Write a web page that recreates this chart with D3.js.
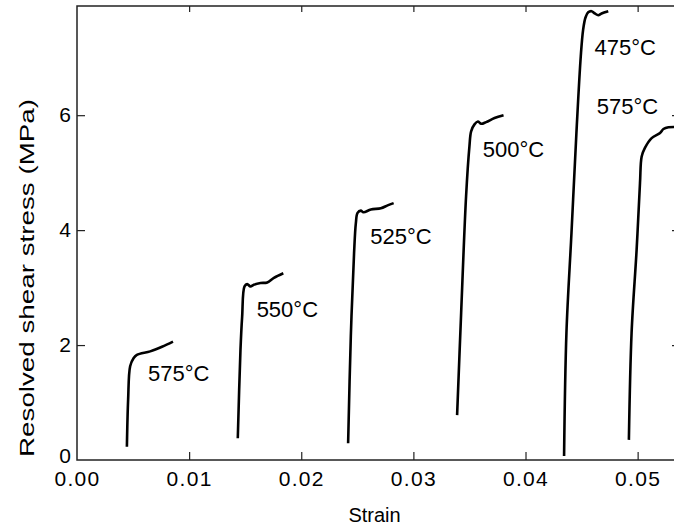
<!DOCTYPE html>
<html>
<head>
<meta charset="utf-8">
<script src="https://cdn.jsdelivr.net/npm/d3@7"></script>
<style>
  html, body { margin: 0; padding: 0; background: #fff; }
  svg { display: block; font-family: "Liberation Sans", Arial, Helvetica, sans-serif; }
</style>
</head>
<body>
<svg id="chart" width="674" height="531"></svg>
<script>
// Stress–strain traces, one per test temperature (strain, resolved shear stress in MPa)
const curve575a = [[0.00445,0.23],[0.00456,1.05],[0.00474,1.63],[0.00504,1.77],[0.00534,1.83],[0.00653,1.89],[0.00758,1.97],[0.00856,2.06]];
const curve550 = [[0.01434,0.38],[0.01458,1.92],[0.01473,2.50],[0.01494,3.02],[0.01518,3.06],[0.01547,3.02],[0.01577,3.05],[0.01637,3.08],[0.01697,3.09],[0.01756,3.17],[0.01840,3.25]];
const curve525 = [[0.02418,0.29],[0.02442,2.15],[0.02471,3.60],[0.02487,4.12],[0.02502,4.30],[0.02531,4.34],[0.02555,4.31],[0.02621,4.36],[0.02710,4.38],[0.02770,4.43],[0.02824,4.47]];
const curve500 = [[0.03390,0.78],[0.03426,2.56],[0.03470,4.59],[0.03500,5.46],[0.03515,5.72],[0.03545,5.84],[0.03575,5.89],[0.03605,5.85],[0.03649,5.88],[0.03724,5.95],[0.03804,6.00]];
const curve475 = [[0.04344,0.07],[0.04365,2.21],[0.04410,3.95],[0.04454,5.69],[0.04493,7.03],[0.04514,7.49],[0.04535,7.70],[0.04559,7.79],[0.04589,7.81],[0.04618,7.77],[0.04649,7.74],[0.04678,7.77],[0.04738,7.81]];
const curve575b = [[0.04922,0.35],[0.04946,2.21],[0.04991,3.66],[0.05021,4.82],[0.05036,5.28],[0.05065,5.43],[0.05125,5.60],[0.05200,5.69],[0.05230,5.76],[0.05275,5.79],[0.05400,5.79]];

const curves = [curve575a, curve550, curve525, curve500, curve475, curve575b];
const curveLabels = ["575°C", "550°C", "525°C", "500°C", "475°C", "575°C"];
// label anchor in data units (left edge, baseline)
const labelX = [0.00633, 0.01602, 0.02615, 0.03619, 0.04616, 0.04635];
const labelY = [1.37, 2.48, 3.75, 5.28, 7.05, 6.02];

const xTicks = [0.00, 0.01, 0.02, 0.03, 0.04, 0.05];
const xTickLabels = ["0.00", "0.01", "0.02", "0.03", "0.04", "0.05"];
const yTicks = [0, 2, 4, 6];
const yTickLabels = ["0", "2", "4", "6"];

const svg = d3.select("#chart");
const margin = {left: 77, top: 6, right: -4, bottom: 71};
const W = 674, H = 531;
const x = d3.scaleLinear().domain([0, 0.0536]).range([margin.left, W - margin.right]);
const y = d3.scaleLinear().domain([0, 7.9]).range([H - margin.bottom, margin.top]);

const axisColor = "#222";

// plot frame
svg.append("rect")
  .attr("x", x.range()[0]).attr("y", y.range()[1])
  .attr("width", x.range()[1] - x.range()[0])
  .attr("height", y.range()[0] - y.range()[1])
  .attr("fill", "none").attr("stroke", axisColor).attr("stroke-width", 1.5);

// bottom axis: ticks point inward
const xAxis = d3.axisBottom(x).tickValues(xTicks).tickSize(-8).tickPadding(11)
  .tickFormat((d, i) => xTickLabels[i]);
const gx = svg.append("g").attr("transform", `translate(0,${y(0)})`).call(xAxis);
gx.select(".domain").remove();
gx.selectAll(".tick line").attr("stroke", axisColor).attr("stroke-width", 1.2)
  .filter(d => d === 0).remove();
gx.selectAll(".tick text").attr("font-size", 21).attr("fill", "#000")
  .attr("font-family", "Liberation Sans, Arial, sans-serif").attr("letter-spacing", 1.3);

// top axis ticks
const gxt = svg.append("g").attr("transform", `translate(0,${y.range()[1]})`)
  .call(d3.axisTop(x).tickValues(xTicks.filter(d => d > 0)).tickSize(-6).tickFormat(""));
gxt.select(".domain").remove();
gxt.selectAll(".tick line").attr("stroke", axisColor).attr("stroke-width", 1.2);

// left axis: ticks point inward
const yAxis = d3.axisLeft(y).tickValues(yTicks).tickSize(-8).tickPadding(6)
  .tickFormat((d, i) => yTickLabels[i]);
const gy = svg.append("g").attr("transform", `translate(${x.range()[0]},0)`).call(yAxis);
gy.select(".domain").remove();
gy.selectAll(".tick line").attr("stroke", axisColor).attr("stroke-width", 1.2)
  .filter(d => d === 0).remove();
gy.selectAll(".tick text").attr("font-size", 21).attr("fill", "#000")
  .attr("font-family", "Liberation Sans, Arial, sans-serif");
// lift the origin label a little so it clears the strain labels
gy.selectAll(".tick text").filter(d => d === 0).attr("dy", "0.1em");

// right axis ticks
const gyr = svg.append("g").attr("transform", `translate(${x.range()[1]},0)`)
  .call(d3.axisRight(y).tickValues(yTicks.filter(d => d > 0)).tickSize(-6).tickFormat(""));
gyr.select(".domain").remove();
gyr.selectAll(".tick line").attr("stroke", axisColor).attr("stroke-width", 1.2);

// axis titles
svg.append("text")
  .attr("x", (x.range()[0] + x.range()[1]) / 2 - 3).attr("y", 522)
  .attr("text-anchor", "middle").attr("font-size", 20).attr("fill", "#000")
  .text("Strain");
svg.append("text")
  .attr("transform", `translate(34,278) rotate(-90)`)
  .attr("text-anchor", "middle").attr("font-size", 21).attr("fill", "#000")
  .attr("textLength", 358).attr("lengthAdjust", "spacingAndGlyphs")
  .text("Resolved shear stress (MPa)");

// curves
svg.append("clipPath").attr("id", "plot-clip").append("rect")
  .attr("x", x.range()[0]).attr("y", y.range()[1])
  .attr("width", x.range()[1] - x.range()[0]).attr("height", y.range()[0] - y.range()[1]);

const line = d3.line().x(d => x(d[0])).y(d => y(d[1])).curve(d3.curveCatmullRom.alpha(0.5));
svg.append("g").attr("clip-path", "url(#plot-clip)")
  .selectAll("path").data(curves).join("path")
  .attr("d", line)
  .attr("fill", "none").attr("stroke", "#000").attr("stroke-width", 2.6)
  .attr("stroke-linejoin", "round").attr("stroke-linecap", "butt");

// temperature labels
svg.append("g").selectAll("text").data(curveLabels).join("text")
  .attr("x", (d, i) => x(labelX[i])).attr("y", (d, i) => y(labelY[i]))
  .attr("font-size", 22).attr("fill", "#000")
  .text(d => d);
</script>
</body>
</html>
